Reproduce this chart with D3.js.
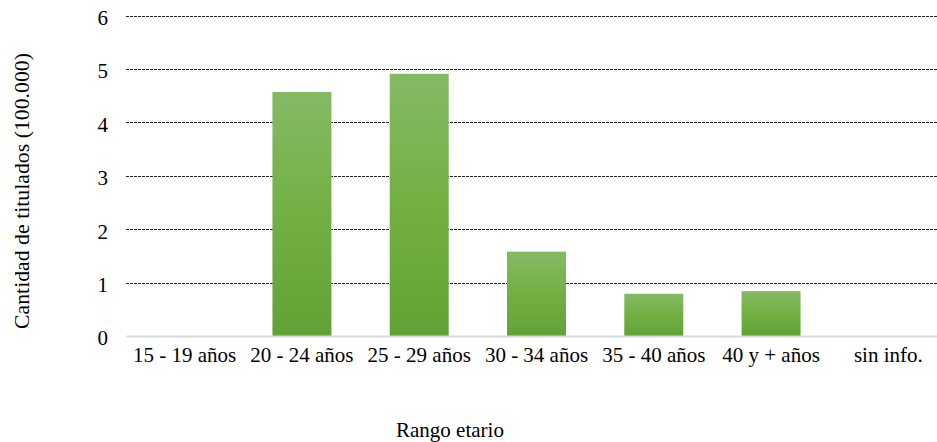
<!DOCTYPE html>
<html>
<head>
<meta charset="utf-8">
<script src="https://cdn.jsdelivr.net/npm/d3@7"></script>
<style>
  html, body { margin: 0; padding: 0; background: #fff; }
</style>
</head>
<body>
<svg id="chart" width="937" height="442"></svg>
<script>
// Titulados por rango etario (en cientos de miles)
const categories = ["15 - 19 años", "20 - 24 años", "25 - 29 años", "30 - 34 años", "35 - 40 años", "40 y + años", "sin info."];
const values = [0, 4.57, 4.91, 1.58, 0.79, 0.84, 0];
const yTicks = [0, 1, 2, 3, 4, 5, 6];
const yTitle = "Cantidad de titulados (100.000)";
const xTitle = "Rango etario";

const FONT = '"Liberation Serif"';
const svg = d3.select("#chart");

const x = d3.scaleBand().domain(categories).range([126, 947]).paddingInner(0.497).paddingOuter(0.2485);
const y = d3.scaleLinear().domain([0, 6]).range([336, 15.6]);

// Degradado vertical de las barras
const defs = svg.append("defs");
const grad = defs.append("linearGradient").attr("id", "barGrad")
  .attr("x1", 0).attr("y1", 0).attr("x2", 0).attr("y2", 1);
grad.append("stop").attr("offset", "0%").attr("stop-color", "#85ba65");
grad.append("stop").attr("offset", "50%").attr("stop-color", "#72b043");
grad.append("stop").attr("offset", "100%").attr("stop-color", "#62a234");

// Líneas de cuadrícula punteadas
const gridAxis = d3.axisLeft(y).tickValues(yTicks.filter(d => d > 0)).tickSize(-(947 - 126)).tickFormat("");
const grid = svg.append("g").attr("transform", "translate(126,0)").call(gridAxis);
grid.select(".domain").remove();
grid.selectAll("line").attr("stroke", "#222").attr("stroke-width", 1)
  .attr("stroke-dasharray", "3,1").attr("shape-rendering", "crispEdges");

// Barras
svg.append("g").selectAll("rect").data(categories).join("rect")
  .attr("x", d => x(d))
  .attr("y", (d, i) => y(values[i]))
  .attr("width", x.bandwidth())
  .attr("height", (d, i) => y(0) - y(values[i]))
  .attr("fill", "url(#barGrad)");

// Eje X
const xAxis = svg.append("g").attr("transform", `translate(0,${y(0)})`)
  .call(d3.axisBottom(x).tickSize(0));
xAxis.attr("font-family", FONT).attr("font-size", 21);
xAxis.select(".domain").attr("stroke", "#d9d9d9").attr("stroke-width", 2);
xAxis.selectAll("text").attr("y", 25.7).attr("dy", 0).attr("fill", "#000")
  .attr("font-family", FONT).attr("font-size", 21);

// Eje Y
const yAxis = svg.append("g").attr("transform", "translate(108,0)")
  .call(d3.axisLeft(y).tickValues(yTicks).tickSize(0).tickPadding(0).tickFormat(d3.format("d")));
yAxis.attr("font-family", FONT).attr("font-size", 21);
yAxis.select(".domain").remove();
yAxis.selectAll("text").attr("dy", "0.42em").attr("fill", "#000")
  .attr("font-family", FONT).attr("font-size", 21);

// Títulos de ejes
svg.append("text").attr("x", 450).attr("y", 437).attr("text-anchor", "middle")
  .attr("font-family", FONT).attr("font-size", 21).attr("fill", "#000").text(xTitle);
svg.append("text").attr("transform", "translate(28.5,191) rotate(-90)").attr("text-anchor", "middle")
  .attr("font-family", FONT).attr("font-size", 21.8).attr("fill", "#000").text(yTitle);
</script>
</body>
</html>
